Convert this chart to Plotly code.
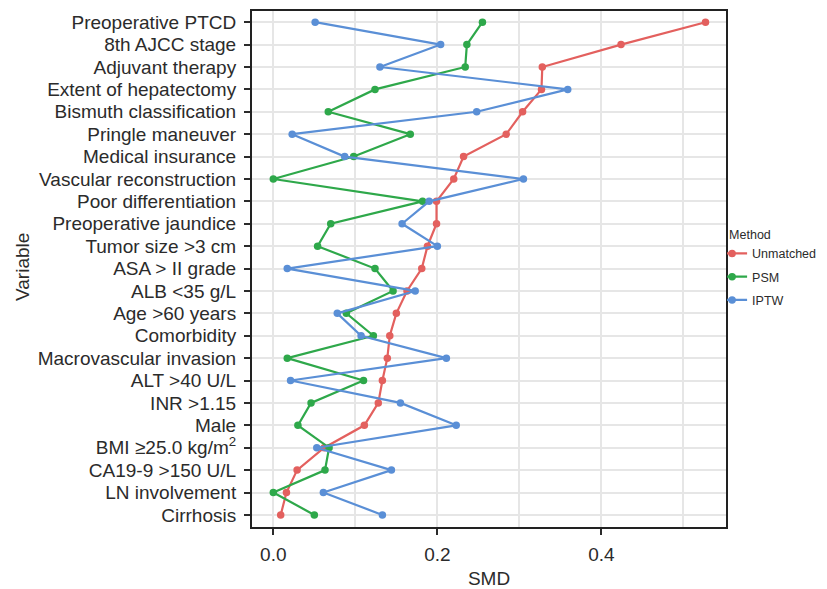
import plotly.graph_objects as go

variables = [
    "Preoperative PTCD", "8th AJCC stage", "Adjuvant therapy", "Extent of hepatectomy",
    "Bismuth classification", "Pringle maneuver", "Medical insurance", "Vascular reconstruction",
    "Poor differentiation", "Preoperative jaundice", "Tumor size >3 cm", "ASA > II grade",
    "ALB <35 g/L", "Age >60 years", "Comorbidity", "Macrovascular invasion", "ALT >40 U/L",
    "INR >1.15", "Male", "BMI ≥25.0 kg/m<sup>2</sup>", "CA19-9 >150 U/L", "LN involvement", "Cirrhosis",
]
unmatched = [0.527, 0.424, 0.328, 0.327, 0.304, 0.284, 0.232, 0.220, 0.199, 0.199, 0.188, 0.181,
             0.163, 0.150, 0.142, 0.139, 0.133, 0.128, 0.111, 0.062, 0.029, 0.016, 0.009]
psm = [0.255, 0.236, 0.234, 0.124, 0.067, 0.167, 0.098, 0.000, 0.182, 0.070, 0.054, 0.124,
       0.146, 0.089, 0.122, 0.017, 0.110, 0.046, 0.030, 0.068, 0.063, 0.000, 0.050]
iptw = [0.051, 0.204, 0.130, 0.359, 0.248, 0.023, 0.087, 0.305, 0.190, 0.157, 0.200, 0.017,
        0.173, 0.078, 0.107, 0.211, 0.021, 0.155, 0.223, 0.053, 0.144, 0.061, 0.133]
methods = ["Unmatched", "PSM", "IPTW"]
colors = ["#e3605e", "#2ea84a", "#5a8fd6"]
x_ticks = [0.0, 0.2, 0.4]
x_tick_labels = ["0.0", "0.2", "0.4"]
threshold = 0.1

FONT = "Liberation Sans, Arial, Helvetica, sans-serif"
TXT = "#2b2b2b"
fig = go.Figure()
for name, vals, col in zip(methods, [unmatched, psm, iptw], colors):
    fig.add_trace(go.Scatter(
        x=vals, y=variables, mode="lines+markers", name=name, legendgroup=name,
        line=dict(color=col, width=2.2), marker=dict(color=col, size=7.5),
    ))

fig.add_shape(type="line", xref="x", yref="paper", x0=threshold, x1=threshold, y0=0, y1=1,
              line=dict(color="#6b6b6b", width=1), layer="below")

fig.add_annotation(text="Variable", xref="paper", yref="paper", x=0, y=0.5,
                   xanchor="center", yanchor="middle", xshift=-230, yshift=2,
                   textangle=-90, showarrow=False, font=dict(size=19, color=TXT))

# page body has an 8px margin, so the figure is sized to the remaining area
fig.update_layout(
    width=819, height=581,
    margin=dict(l=244, r=101, t=3, b=62, autoexpand=False),
    paper_bgcolor="white", plot_bgcolor="white",
    font=dict(family=FONT, color=TXT, size=19),
    legend=dict(
        title=dict(text="Method", font=dict(size=12.5, color=TXT)),
        font=dict(size=12.5, color=TXT),
        x=1.0023, xref="paper", xanchor="left", y=0.59, yanchor="top",
        itemwidth=30, indentation=-15, tracegroupgap=4,
        bgcolor="rgba(0,0,0,0)",
    ),
    xaxis=dict(
        range=[-0.026, 0.552], tickvals=x_ticks, ticktext=x_tick_labels,
        ticks="outside", ticklen=6, tickwidth=1.5, tickcolor=TXT,
        ticklabelstandoff=3,
        showgrid=True, gridcolor="#e6e6e6", gridwidth=1.5,
        minor=dict(dtick=0.1, tick0=0, showgrid=True, gridcolor="#e6e6e6", gridwidth=1.5, ticks=""),
        zeroline=False, showline=True, linecolor="#222222", linewidth=2, mirror=True,
        title=dict(text="SMD", standoff=20, font=dict(size=19)),
        tickfont=dict(size=19, color=TXT),
    ),
    yaxis=dict(
        categoryorder="array", categoryarray=variables, type="category",
        tickmode="array", tickvals=variables, ticktext=variables,
        range=[22.54, -0.5],
        ticks="outside", ticklen=6, tickwidth=1.5, tickcolor=TXT,
        ticklabelstandoff=4,
        showgrid=True, gridcolor="#e6e6e6", gridwidth=1.5,
        zeroline=False, showline=True, linecolor="#222222", linewidth=2, mirror=True,
        tickfont=dict(size=19, color=TXT),
    ),
)

fig.write_html("out.html")
